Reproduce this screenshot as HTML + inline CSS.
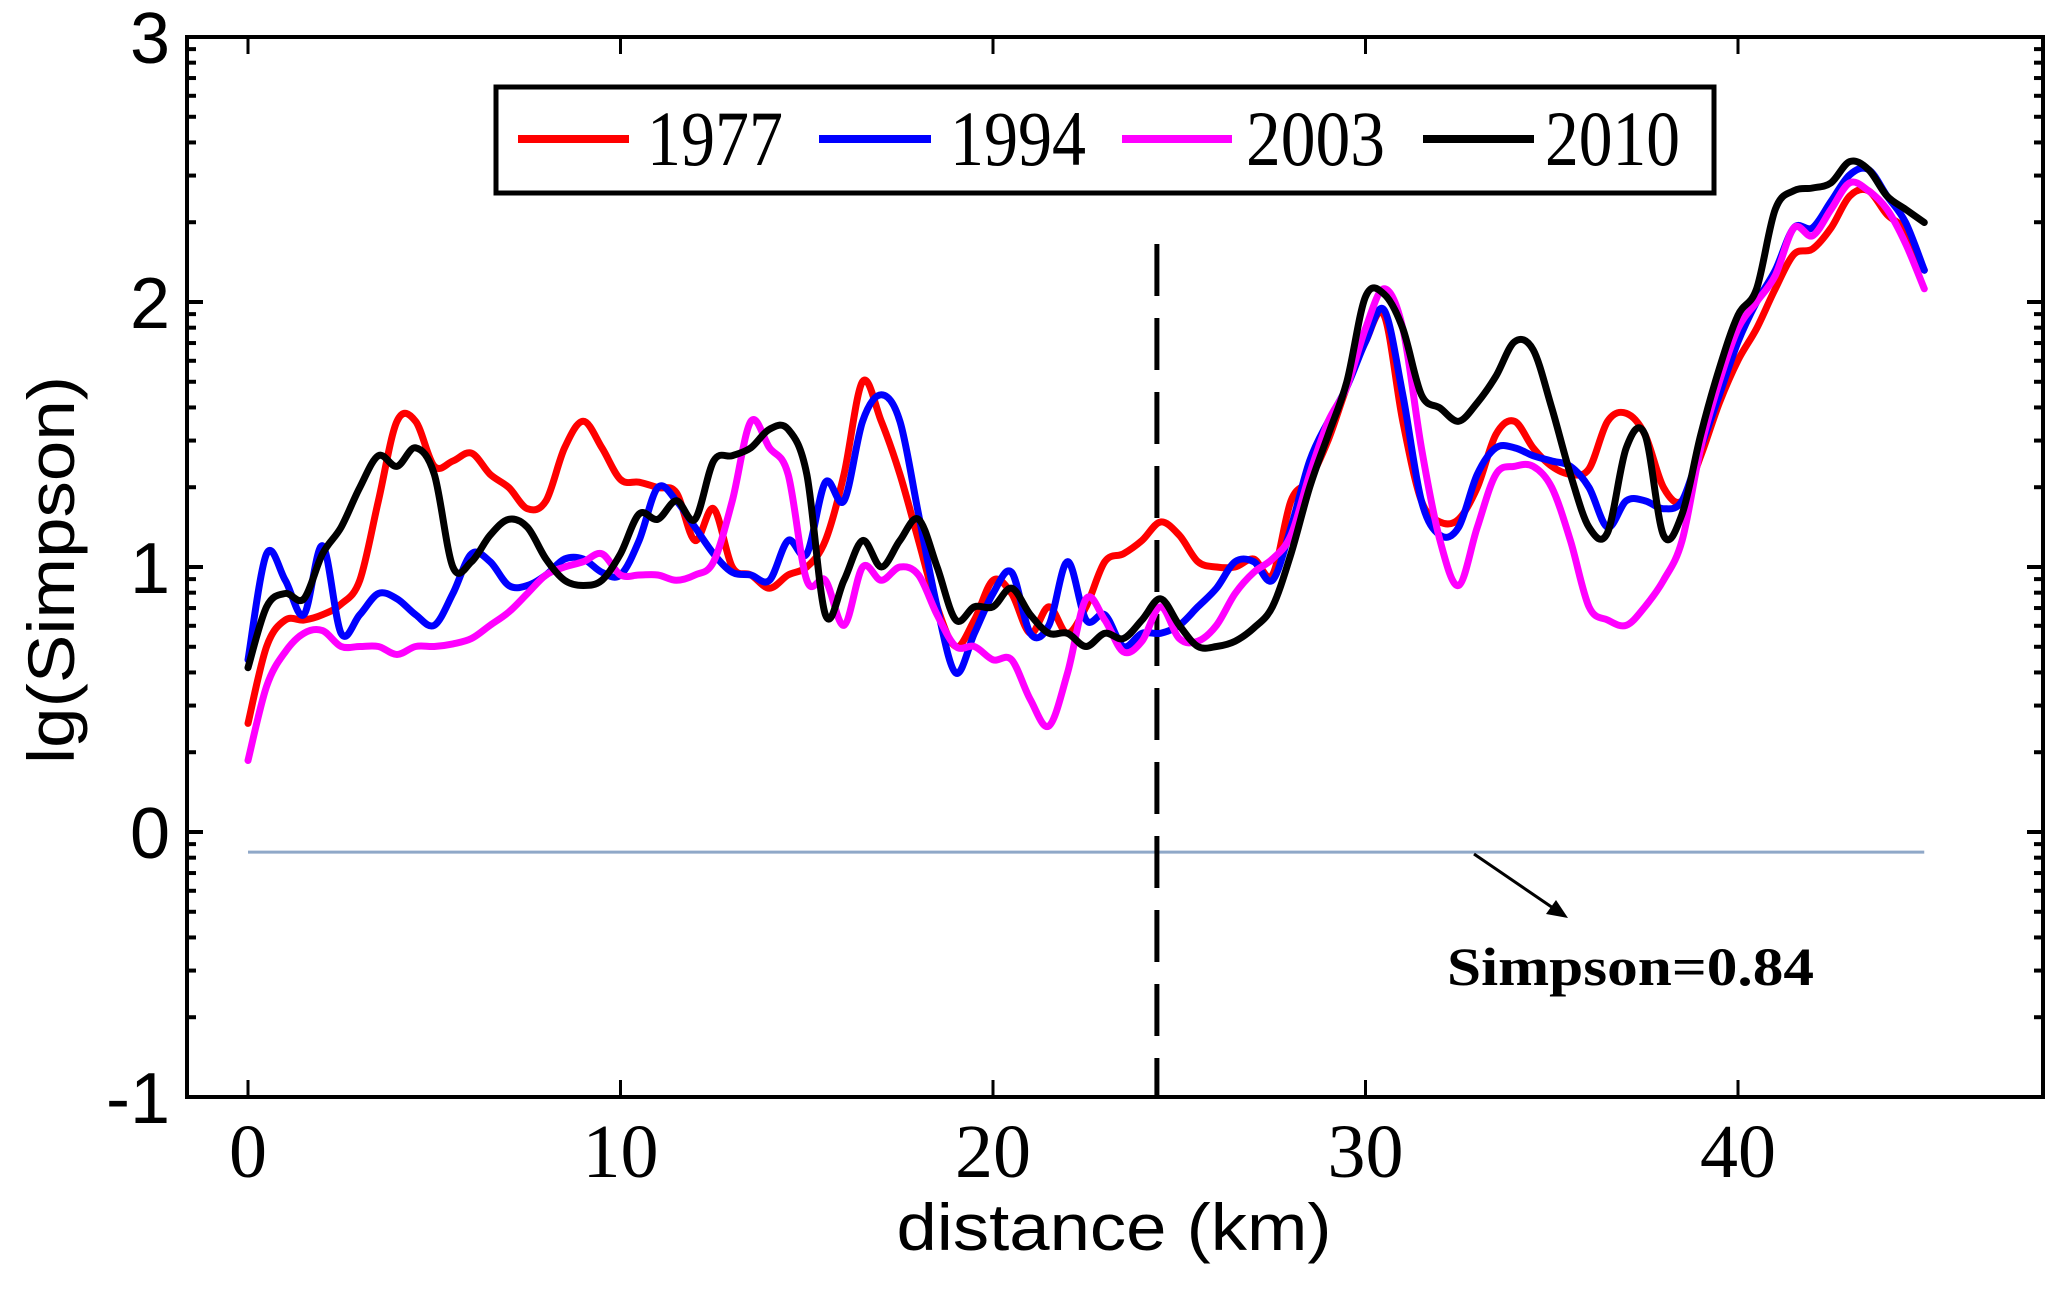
<!DOCTYPE html>
<html><head><meta charset="utf-8"><style>
html,body{margin:0;padding:0;background:#fff;}
svg{display:block;}
</style></head><body>
<svg id="chart" width="2067" height="1294" xmlns="http://www.w3.org/2000/svg">
<rect x="0" y="0" width="2067" height="1294" fill="#fff"/>
<g id="series"></g>
<g id="axes"></g>
<rect x="496" y="87" width="1218" height="106" fill="#fff" stroke="#000" stroke-width="5"/>
<line x1="518" y1="139" x2="629" y2="139" stroke="#ff0000" stroke-width="8"/>
<text x="647" y="165" font-family="Liberation Serif, serif" font-size="78" textLength="136" lengthAdjust="spacingAndGlyphs">1977</text>
<line x1="819" y1="139" x2="931" y2="139" stroke="#0000ff" stroke-width="8"/>
<text x="950" y="165" font-family="Liberation Serif, serif" font-size="78" textLength="136" lengthAdjust="spacingAndGlyphs">1994</text>
<line x1="1122" y1="139" x2="1232" y2="139" stroke="#ff00ff" stroke-width="8"/>
<text x="1246" y="165" font-family="Liberation Serif, serif" font-size="78" textLength="139" lengthAdjust="spacingAndGlyphs">2003</text>
<line x1="1423" y1="139" x2="1534" y2="139" stroke="#000" stroke-width="8"/>
<text x="1545" y="165" font-family="Liberation Serif, serif" font-size="78" textLength="135" lengthAdjust="spacingAndGlyphs">2010</text>
<text transform="translate(74,570) rotate(-90)" text-anchor="middle" font-family="Liberation Sans, sans-serif" font-size="66" textLength="388" lengthAdjust="spacingAndGlyphs">lg(Simpson)</text>
<text x="1114" y="1250" text-anchor="middle" font-family="Liberation Sans, sans-serif" font-size="66" textLength="435" lengthAdjust="spacingAndGlyphs">distance (km)</text>
<text x="1447" y="985" font-family="Liberation Serif, serif" font-weight="bold" font-size="54" textLength="367" lengthAdjust="spacingAndGlyphs">Simpson=0.84</text>
<line x1="1474" y1="854" x2="1556" y2="910" stroke="#000" stroke-width="3"/>
<polygon points="1568,918 1546,914 1556,900" fill="#000"/>
</svg>
<script>
const distances = [];
for (let i = 0; i <= 90; i++) distances.push(i * 0.5);
const yTickValues = [3, 2, 1, 0, -1];
const yTickLabels = ["3", "2", "1", "0", "-1"];
const xTickValues = [0, 10, 20, 30, 40];
const xTickLabels = ["0", "10", "20", "30", "40"];
const thresholdValue = -0.076;
const boundaryKm = 24.4;
const v1977 = [0.41,0.70,0.80,0.80,0.82,0.86,0.95,1.25,1.55,1.55,1.38,1.40,1.43,1.35,1.30,1.22,1.25,1.45,1.55,1.45,1.33,1.32,1.30,1.28,1.10,1.22,1.00,0.97,0.92,0.97,1.00,1.10,1.35,1.70,1.55,1.35,1.10,0.85,0.70,0.80,0.95,0.90,0.75,0.85,0.75,0.85,1.02,1.05,1.10,1.17,1.12,1.02,1.00,1.00,1.03,0.97,1.25,1.33,1.48,1.68,1.85,1.95,1.55,1.25,1.17,1.18,1.30,1.50,1.55,1.45,1.38,1.35,1.37,1.55,1.58,1.50,1.30,1.25,1.42,1.62,1.78,1.90,2.05,2.18,2.20,2.28,2.40,2.42,2.33,2.27,2.12];
const v1994 = [0.65,1.05,0.95,0.82,1.08,0.75,0.82,0.90,0.88,0.82,0.78,0.90,1.05,1.02,0.93,0.93,0.97,1.03,1.03,0.98,0.97,1.10,1.30,1.25,1.15,1.05,0.98,0.97,0.95,1.10,1.05,1.32,1.25,1.55,1.65,1.55,1.20,0.85,0.60,0.75,0.90,0.98,0.75,0.78,1.02,0.80,0.82,0.70,0.75,0.75,0.78,0.85,0.92,1.02,1.02,0.95,1.15,1.40,1.55,1.68,1.85,1.97,1.65,1.25,1.12,1.15,1.35,1.45,1.45,1.42,1.40,1.38,1.30,1.15,1.25,1.25,1.22,1.25,1.45,1.65,1.85,2.00,2.12,2.28,2.28,2.38,2.48,2.50,2.40,2.30,2.12];
const v2003 = [0.27,0.55,0.68,0.75,0.76,0.70,0.70,0.70,0.67,0.70,0.70,0.71,0.73,0.78,0.83,0.90,0.97,1.00,1.02,1.05,0.97,0.97,0.97,0.95,0.97,1.02,1.25,1.55,1.45,1.35,0.95,0.95,0.78,1.00,0.95,1.00,0.97,0.82,0.70,0.70,0.65,0.65,0.50,0.40,0.60,0.88,0.80,0.68,0.72,0.85,0.73,0.72,0.78,0.90,0.98,1.03,1.12,1.35,1.55,1.68,1.90,2.05,1.90,1.45,1.10,0.93,1.15,1.35,1.38,1.38,1.30,1.10,0.85,0.80,0.78,0.85,0.95,1.10,1.45,1.70,1.90,2.00,2.10,2.28,2.25,2.35,2.45,2.42,2.35,2.22,2.05];
const v2010 = [0.62,0.85,0.90,0.88,1.05,1.15,1.30,1.42,1.38,1.45,1.35,1.00,1.02,1.12,1.18,1.15,1.03,0.95,0.93,0.95,1.05,1.20,1.18,1.25,1.18,1.40,1.42,1.45,1.52,1.52,1.35,0.82,0.95,1.10,1.00,1.10,1.18,1.00,0.80,0.85,0.85,0.92,0.82,0.75,0.75,0.70,0.75,0.73,0.80,0.88,0.78,0.70,0.70,0.72,0.77,0.85,1.05,1.30,1.50,1.70,2.02,2.03,1.90,1.65,1.60,1.55,1.62,1.72,1.85,1.82,1.60,1.35,1.15,1.13,1.45,1.50,1.12,1.20,1.50,1.75,1.95,2.05,2.35,2.42,2.43,2.45,2.53,2.50,2.40,2.35,2.30];
const seriesList = [
  {name:"1977", color:"#ff0000", values:v1977},
  {name:"1994", color:"#0000ff", values:v1994},
  {name:"2003", color:"#ff00ff", values:v2003},
  {name:"2010", color:"#000000", values:v2010}
];
const NS = "http://www.w3.org/2000/svg";
const L = 187, R = 2043, T = 37, B = 1097;
function xs(v){ return 248 + v * 37.25; }
function ys(v){ return 832 - v * 265; }
function mk(tag, attrs, parent){
  const e = document.createElementNS(NS, tag);
  for (const k in attrs) e.setAttribute(k, attrs[k]);
  parent.appendChild(e);
  return e;
}
function smoothPath(p){
  let d = 'M' + p[0][0].toFixed(1) + ',' + p[0][1].toFixed(1);
  for (let i = 0; i < p.length - 1; i++) {
    const p0 = p[Math.max(0, i-1)], p1 = p[i], p2 = p[i+1], p3 = p[Math.min(p.length-1, i+2)];
    const c1x = p1[0] + (p2[0]-p0[0])/6, c1y = p1[1] + (p2[1]-p0[1])/6;
    const c2x = p2[0] - (p3[0]-p1[0])/6, c2y = p2[1] - (p3[1]-p1[1])/6;
    d += ' C' + c1x.toFixed(1) + ',' + c1y.toFixed(1) + ' ' + c2x.toFixed(1) + ',' + c2y.toFixed(1) + ' ' + p2[0].toFixed(1) + ',' + p2[1].toFixed(1);
  }
  return d;
}
const sg = document.getElementById('series');
const ag = document.getElementById('axes');
const th = mk('line', {x1:xs(0), x2:xs(45), y1:ys(thresholdValue), y2:ys(thresholdValue), stroke:'#8fa8c8', 'stroke-width':3}, sg);


const bd = mk('line', {x1:xs(boundaryKm), x2:xs(boundaryKm), y1:244, y2:B, stroke:'#000', 'stroke-width':5, 'stroke-dasharray':'52 22'}, sg);


seriesList.forEach(s => {
  const pts = s.values.map((v,i) => [xs(distances[i]), ys(v)]);
  const pl = mk('path', {d:smoothPath(pts), fill:'none', stroke:s.color, 'stroke-width':7, 'stroke-linejoin':'round', 'stroke-linecap':'round'}, sg);
  
  
});
const fr = mk('rect', {x:L, y:T, width:R-L, height:B-T, fill:'none', stroke:'#000', 'stroke-width':4}, ag);


yTickValues.forEach((v,i) => {
  const y = ys(v);
  const t1 = mk('line', {x1:L, x2:L+16, y1:y, y2:y, stroke:'#000', 'stroke-width':4}, ag);
  
  
  const t2 = mk('line', {x1:R, x2:R-16, y1:y, y2:y, stroke:'#000', 'stroke-width':4}, ag);
  
  
  const lb = mk('text', {x:170, y:y+26, 'text-anchor':'end', 'font-family':'Liberation Sans, sans-serif', 'font-size':72}, ag);
  lb.textContent = yTickLabels[i];
  
  
  if (v < 3) {
    for (let k = 2; k <= 9; k++) {
      const my = ys(v + Math.log10(k));
      const m1 = mk('line', {x1:L, x2:L+9, y1:my, y2:my, stroke:'#000', 'stroke-width':4}, ag);
      
      
      const m2 = mk('line', {x1:R, x2:R-9, y1:my, y2:my, stroke:'#000', 'stroke-width':4}, ag);
      
      
    }
  }
});
xTickValues.forEach((v,i) => {
  const x = xs(v);
  const t1 = mk('line', {x1:x, x2:x, y1:B, y2:B-17, stroke:'#000', 'stroke-width':3}, ag);
  
  
  const t2 = mk('line', {x1:x, x2:x, y1:T, y2:T+17, stroke:'#000', 'stroke-width':3}, ag);
  
  
  const lb = mk('text', {x:x, y:1177, 'text-anchor':'middle', 'font-family':'Liberation Serif, serif', 'font-size':76}, ag);
  lb.textContent = xTickLabels[i];
  
  
});
</script>
</body></html>
